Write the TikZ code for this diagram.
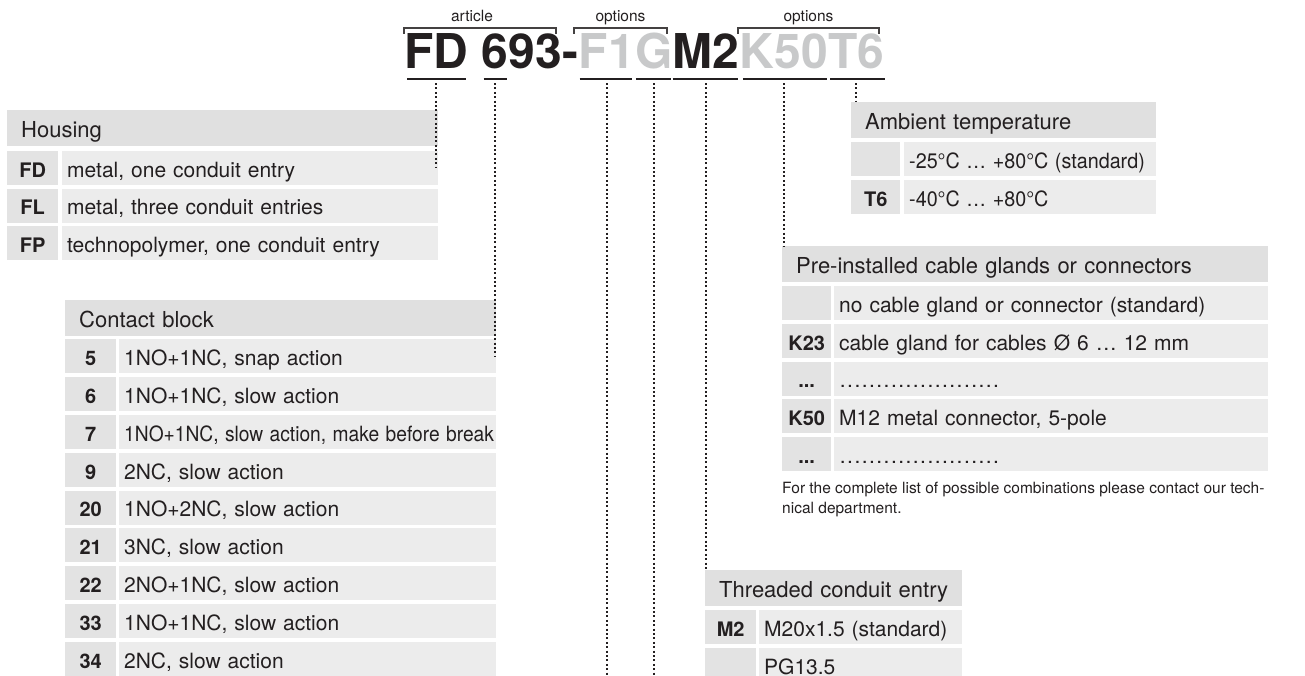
\documentclass[tikz,border=0pt]{standalone}
\usepackage{fontspec}
\setmainfont{TeX Gyre Heros}
\usepackage{graphicx}
\usetikzlibrary{positioning}
\definecolor{inkblack}{RGB}{35,31,32}
\definecolor{optgray}{RGB}{200,201,202}
\definecolor{headgray}{RGB}{224,224,224}
\definecolor{codegray}{RGB}{227,227,227}
\definecolor{descgray}{RGB}{236,236,236}
\newcommand{\leaderdots}{\hbox to 161pt{\leaders\hbox to 7.3pt{\hss.\hss}\hfil}}

\begin{document}
\begin{tikzpicture}[x=1pt,y=-1pt]
\tikzset{
  codepart/.style={inner sep=0pt,anchor=base west,font=\fontsize{48}{48}\selectfont\bfseries,text=inkblack},
  optpart/.style={text=optgray},
  bracketlabel/.style={inner sep=0pt,anchor=base,font=\fontsize{15.5}{18}\selectfont,text=inkblack},
  headcell/.style={anchor=north west,fill=headgray,minimum height=36pt,inner xsep=14pt,inner ysep=0pt,
    minimum width=#1pt,text width=#1pt-28pt,align=left,text height=18pt,text depth=0pt,
    font=\fontsize{22}{26}\selectfont,text=inkblack},
  codecell/.style={anchor=north west,fill=codegray,minimum height=34pt,inner sep=0pt,minimum width=#1pt,
    text height=18pt,text depth=0pt,font=\fontsize{20}{24}\selectfont\bfseries,text=inkblack},
  desccell/.style={anchor=north west,fill=descgray,minimum height=34pt,inner xsep=5pt,inner ysep=0pt,
    minimum width=#1pt,text width=#1pt-10pt,align=left,text height=18pt,text depth=0pt,
    font=\fontsize{21}{25}\selectfont,text=inkblack},
  footnote/.style={anchor=north west,inner sep=0pt,align=left,font=\fontsize{15.5}{20.5}\selectfont,text=inkblack},
  codeline/.style={line width=2.6pt,draw=inkblack},
  dropline/.style={line width=2pt,draw=inkblack,dash pattern=on 2pt off 2.4pt},
  bracketline/.style={line width=1.2pt,draw=inkblack!85}
}
\useasboundingbox (0,0) rectangle (1305,675);
\clip (0,0) rectangle (1305,675);
\coordinate (bottom) at (0,676);

% order code
\node[codepart] (t_FD) at (404,68) {FD};
\node[codepart,base right=13.3pt of t_FD] (t_6) {6};
\node[codepart,base right=0pt of t_6] (t_93) {93-};
\node[codepart,optpart,base right=0pt of t_93] (t_F1) {F1};
\node[codepart,optpart,base right=0pt of t_F1] (t_G) {G};
\node[codepart,base right=0pt of t_G] (t_M2) {M2};
\node[codepart,optpart,base right=0pt of t_M2] (t_K50) {K50};
\node[codepart,optpart,base right=0pt of t_K50] (t_T6) {T6};

\node[bracketlabel] (l_article) at (472,21.5) {article};
\node[bracketlabel] (l_opt1) at (620.5,21.5) {options};
\node[bracketlabel] (l_opt2) at (808.5,21.5) {options};
\draw[bracketline] (404,33.5) |- (556,28) -- (556,33.5);
\draw[bracketline] (574,33.5) |- (667,28) -- (667,33.5);
\draw[bracketline] (738,33.5) |- (879,28) -- (879,33.5);

\draw[codeline] ([xshift=3pt,yshift=-11pt]t_FD.base west) -- ([xshift=-2pt,yshift=-11pt]t_FD.base east);
\draw[codeline] ([xshift=2pt,yshift=-11pt]t_6.base west) -- ([xshift=-2pt,yshift=-11pt]t_6.base east);
\draw[codeline] ([xshift=1pt,yshift=-11pt]t_F1.base west) -- ([xshift=-3pt,yshift=-11pt]t_F1.base east);
\draw[codeline] ([xshift=1pt,yshift=-11pt]t_G.base west) -- ([xshift=-2pt,yshift=-11pt]t_G.base east);
\draw[codeline] ([xshift=0pt,yshift=-11pt]t_M2.base west) -- ([xshift=-2pt,yshift=-11pt]t_M2.base east);
\draw[codeline] ([xshift=3pt,yshift=-11pt]t_K50.base west) -- ([xshift=-1pt,yshift=-11pt]t_K50.base east);
\draw[codeline] ([xshift=2pt,yshift=-11pt]t_T6.base west) -- ([xshift=0pt,yshift=-11pt]t_T6.base east);

% housing
\node[headcell=431] (h_head) at (7,110) {Housing};
\node[codecell=51] (h_FD_c) at (7,151) {FD};
\node[desccell=376] (h_FD_d) at (62,151) {metal, one conduit entry};
\node[codecell=51] (h_FL_c) at (7,188.5) {FL};
\node[desccell=376] (h_FL_d) at (62,188.5) {metal, three conduit entries};
\node[codecell=51] (h_FP_c) at (7,226) {FP};
\node[desccell=376] (h_FP_d) at (62,226) {technopolymer, one conduit entry};

% contact block
\node[headcell=431] (c_head) at (65,300) {Contact block};
\node[codecell=51] (c_5_c) at (65,339) {5};
\node[desccell=377] (c_5_d) at (119,339) {1NO+1NC, snap action};
\node[codecell=51] (c_6_c) at (65,377) {6};
\node[desccell=377] (c_6_d) at (119,377) {1NO+1NC, slow action};
\node[codecell=51] (c_7_c) at (65,415) {7};
\node[desccell=377] (c_7_d) at (119,415) {\scalebox{0.915}[1]{1NO+1NC, slow action, make before break}};
\node[codecell=51] (c_9_c) at (65,453) {9};
\node[desccell=377] (c_9_d) at (119,453) {2NC, slow action};
\node[codecell=51] (c_20_c) at (65,490.5) {20};
\node[desccell=377] (c_20_d) at (119,490.5) {1NO+2NC, slow action};
\node[codecell=51] (c_21_c) at (65,528) {21};
\node[desccell=377] (c_21_d) at (119,528) {3NC, slow action};
\node[codecell=51] (c_22_c) at (65,566) {22};
\node[desccell=377] (c_22_d) at (119,566) {2NO+1NC, slow action};
\node[codecell=51] (c_33_c) at (65,604) {33};
\node[desccell=377] (c_33_d) at (119,604) {1NO+1NC, slow action};
\node[codecell=51] (c_34_c) at (65,642) {34};
\node[desccell=377] (c_34_d) at (119,642) {2NC, slow action};

% ambient temperature
\node[headcell=305] (a_head) at (851,102) {Ambient temperature};
\node[codecell=49] (a_std_c) at (851,142) {};
\node[desccell=252] (a_std_d) at (904,142) {\scalebox{0.94}[1]{-25°C … +80°C (standard)}};
\node[codecell=49] (a_T6_c) at (851,180) {T6};
\node[desccell=252] (a_T6_d) at (904,180) {\scalebox{0.94}[1]{-40°C … +80°C}};

% cable glands
\node[headcell=486] (k_head) at (782,246) {Pre-installed cable glands or connectors};
\node[codecell=49] (k_std_c) at (782,286) {};
\node[desccell=434] (k_std_d) at (834,286) {no cable gland or connector (standard)};
\node[codecell=49] (k_K23_c) at (782,324) {K23};
\node[desccell=434] (k_K23_d) at (834,324) {cable gland for cables Ø 6 … 12 mm};
\node[codecell=49] (k_more1_c) at (782,361.5) {...};
\node[desccell=434] (k_more1_d) at (834,361.5) {\leaderdots};
\node[codecell=49] (k_K50_c) at (782,399) {K50};
\node[desccell=434] (k_K50_d) at (834,399) {M12 metal connector, 5-pole};
\node[codecell=49] (k_more2_c) at (782,437) {...};
\node[desccell=434] (k_more2_d) at (834,437) {\leaderdots};
\node[footnote] (k_note) at (782,481.5) {For the complete list of possible combinations please contact our tech-\\nical department.};

% conduit entry
\node[headcell=257] (m_head) at (705,570) {Threaded conduit entry};
\node[codecell=51] (m_M2_c) at (705,610) {M2};
\node[desccell=203] (m_M2_d) at (759,610) {M20x1.5 (standard)};
\node[codecell=51] (m_PG_c) at (705,648) {};
\node[desccell=203] (m_PG_d) at (759,648) {PG13.5};

% drop lines
\draw[dropline] ([yshift=-15pt]t_FD.base) -- (t_FD.base |- h_FD_d.east);
\draw[dropline] ([yshift=-15pt]t_6.base) -- (t_6.base |- c_5_d.east);
\draw[dropline] ([yshift=-15pt]t_F1.base) -- (t_F1.base |- bottom);
\draw[dropline] ([yshift=-15pt]t_G.base) -- (t_G.base |- bottom);
\draw[dropline] ([yshift=-15pt]t_M2.base) -- (t_M2.base |- m_head.north);
\draw[dropline] ([yshift=-15pt]t_K50.base) -- (t_K50.base |- k_head.north);
\draw[dropline] ([yshift=-15pt]t_T6.base) -- (t_T6.base |- a_head.north);
\end{tikzpicture}
\end{document}
